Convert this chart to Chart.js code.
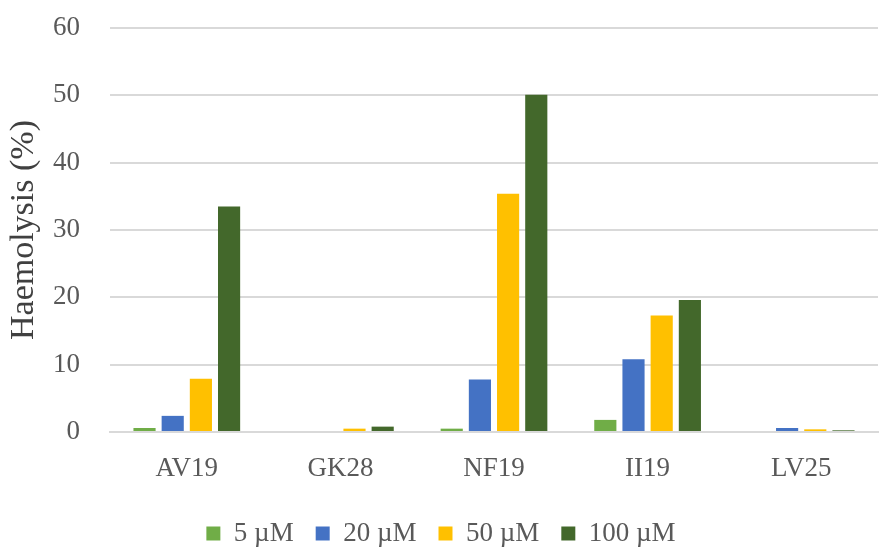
<!DOCTYPE html>
<html>
<head>
<meta charset="utf-8">
<script src="https://cdn.jsdelivr.net/npm/chart.js@4.4.1/dist/chart.umd.min.js"></script>
<style>
  html, body { margin: 0; padding: 0; background: #fff; }
  #wrap { width: 879px; height: 548px; }
</style>
</head>
<body>
<div id="wrap"><canvas id="chart" width="879" height="548"></canvas></div>
<script>
const peptides = ["AV19", "GK28", "NF19", "II19", "LV25"];
const conc5 = [0.6, 0, 0.5, 1.8, 0];
const conc20 = [2.4, 0, 7.8, 10.8, 0.6];
const conc50 = [7.9, 0.5, 35.4, 17.3, 0.4];
const conc100 = [33.5, 0.8, 50.1, 19.6, 0.25];
const yTicks = [0, 10, 20, 30, 40, 50, 60];

const grey = "#595959";
const fontFam = "'Liberation Serif', 'DejaVu Serif', serif";

const ctx = document.getElementById("chart").getContext("2d");
new Chart(ctx, {
  type: "bar",
  data: {
    labels: peptides,
    datasets: [
      { label: "5 µM", data: conc5, backgroundColor: "#70ad47" },
      { label: "20 µM", data: conc20, backgroundColor: "#4472c4" },
      { label: "50 µM", data: conc50, backgroundColor: "#ffc000" },
      { label: "100 µM", data: conc100, backgroundColor: "#43682b" }
    ]
  },
  options: {
    responsive: false,
    animation: false,
    layout: { padding: { left: 4, right: 1, top: 28, bottom: -9 } },
    datasets: {
      bar: { categoryPercentage: 0.734, barPercentage: 0.786 }
    },
    plugins: {
      legend: {
        position: "bottom",
        labels: {
          boxWidth: 14,
          boxHeight: 14,
          padding: 22,
          color: grey,
          font: { family: fontFam, size: 27 }
        }
      },
      tooltip: { enabled: false }
    },
    scales: {
      x: {
        grid: { display: false },
        border: { display: true, color: "#d9d9d9", width: 2 },
        ticks: { color: grey, font: { family: fontFam, size: 27, lineHeight: 0.74 }, padding: 19 }
      },
      y: {
        min: 0,
        max: 60,
        afterBuildTicks: (axis) => { axis.ticks = yTicks.map(v => ({ value: v })); },
        afterFit: (axis) => { axis.width = 106; axis.paddingTop = 0; },
        grid: { color: "#d9d9d9", lineWidth: 2, drawTicks: false },
        border: { display: false },
        ticks: { color: grey, font: { family: fontFam, size: 27 }, padding: 30 },
        title: {
          display: true,
          text: "Haemolysis (%)",
          color: "#404040",
          font: { family: fontFam, size: 34 },
          padding: { top: 0, bottom: 0 }
        }
      }
    }
  }
});
</script>
</body>
</html>
